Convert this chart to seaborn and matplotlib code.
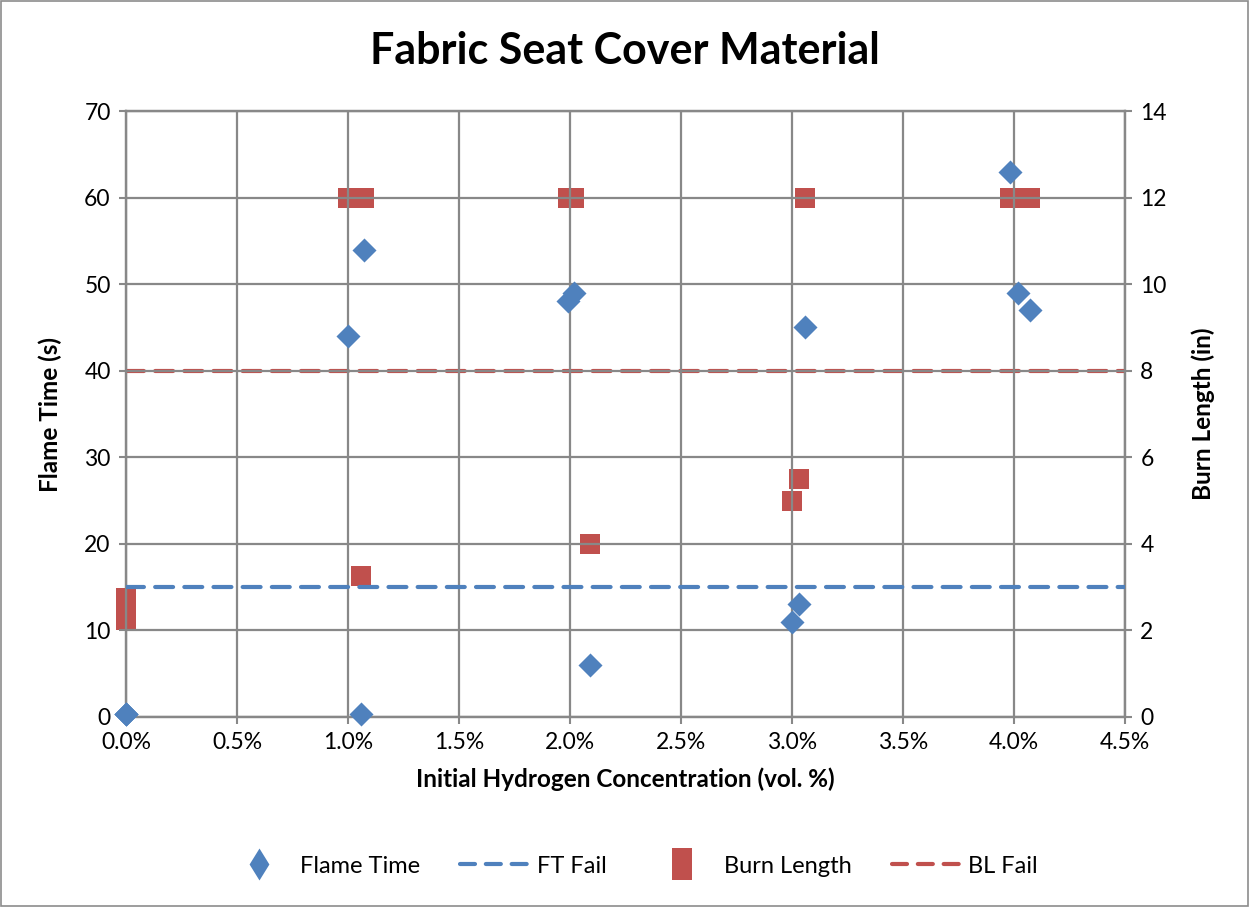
import matplotlib
matplotlib.use("Agg")
import matplotlib.pyplot as plt
import seaborn as sns
import pandas as pd
from matplotlib.patches import Rectangle
from matplotlib.lines import Line2D
from matplotlib.path import Path
from matplotlib.ticker import FuncFormatter, MultipleLocator

# Data
h2_conc = [0.0, 0.0, 0.0, 1.00, 1.07, 1.06, 1.99, 2.02, 2.09, 3.00, 3.03, 3.06, 3.98, 4.02, 4.07]
flame_time = [0.3, 0.3, 0.3, 44, 54, 0.3, 48, 49, 6, 11, 13, 45, 63, 49, 47]
burn_length = [2.75, 2.5, 2.25, 12, 12, 3.25, 12, 12, 4, 5, 5.5, 12, 12, 12, 12]
fail_x = [0.0, 4.5]
ft_fail = [15, 15]
bl_fail = [8, 8]

title = "Fabric Seat Cover Material"
xlabel = "Initial Hydrogen Concentration (vol. %)"
ylabel_left = "Flame Time (s)"
ylabel_right = "Burn Length (in)"
legend_labels = ["Flame Time", "FT Fail", "Burn Length", "BL Fail"]

blue = "#4F81BD"
red = "#C0504D"
grid_c = "#888888"

sns.set_theme(style="white")
plt.rcParams['font.family'] = ['Lato', 'DejaVu Sans']
plt.rcParams['text.color'] = 'black'

df = pd.DataFrame({"x": h2_conc, "ft": flame_time, "bl": burn_length})
fail_df = pd.DataFrame({"x": fail_x, "ft": ft_fail, "bl": bl_fail})

fig = plt.figure(figsize=(12.49, 9.07), dpi=100)
ax = fig.add_axes([0.1009, 0.2095, 0.7998, 0.6681])
ax2 = ax.twinx()

ax.set_zorder(ax2.get_zorder() + 1)
ax.patch.set_visible(False)

# Flame time
sns.lineplot(data=fail_df, x="x", y="ft", ax=ax, color=blue, lw=3,
             dashes=False, zorder=3, legend=False)
ax.lines[-1].set_dashes([4.3, 2.7])
ax.lines[-1].set_dash_capstyle("round")
sns.scatterplot(data=df, x="x", y="ft", ax=ax, marker="D", s=150, color=blue,
                edgecolor=blue, linewidth=0, zorder=4, legend=False, clip_on=False)

# Burn length
sns.lineplot(data=fail_df, x="x", y="bl", ax=ax2, color=red, lw=3,
             dashes=False, zorder=3, legend=False)
ax2.lines[-1].set_dashes([4.3, 2.7])
ax2.lines[-1].set_dash_capstyle("round")
sns.scatterplot(data=df, x="x", y="bl", ax=ax2, marker="s", s=210, color=red,
                edgecolor=red, linewidth=0, zorder=4, legend=False, clip_on=False)

ax.set_xlim(0, 4.5)
ax.set_ylim(0, 70)
ax2.set_ylim(0, 14)
ax.xaxis.set_major_locator(MultipleLocator(0.5))
ax.yaxis.set_major_locator(MultipleLocator(10))
ax2.yaxis.set_major_locator(MultipleLocator(2))
ax.xaxis.set_major_formatter(FuncFormatter(lambda v, p: f"{v:.1f}%"))

ax.grid(True, color=grid_c, lw=1.6, zorder=0)
ax2.grid(False)
for a in (ax, ax2):
    for s in a.spines.values():
        s.set_color(grid_c)
        s.set_linewidth(1.6)
ax.tick_params(axis="both", labelsize=16.5, colors="black", length=5, width=1.5,
               color=grid_c, direction="out", pad=6)
ax.tick_params(axis="x", bottom=True)
ax.tick_params(axis="y", left=True)
ax2.tick_params(axis="y", labelsize=16.5, colors="black", length=5, width=1.5,
                color=grid_c, direction="out", right=True, pad=6)
for lab in ax.get_xticklabels() + ax.get_yticklabels() + ax2.get_yticklabels():
    lab.set_color("black")

ax.set_xlabel(xlabel, fontsize=17.5, fontweight="bold", labelpad=10, color="black")
ax.set_ylabel(ylabel_left, fontsize=17.5, fontweight="bold", labelpad=16, color="black")
ax2.set_ylabel(ylabel_right, fontsize=17.5, fontweight="bold", labelpad=18, color="black")
fig.suptitle(title, fontsize=31, fontweight="bold", y=0.966, color="black")

# Legend (tall marker keys as in the reference)
tall_diamond = Path([(0, 1), (0.62, 0), (0, -1), (-0.62, 0), (0, 1)],
                    [Path.MOVETO, Path.LINETO, Path.LINETO, Path.LINETO, Path.CLOSEPOLY])
tall_rect = Path([(-0.62, 1), (0.62, 1), (0.62, -1), (-0.62, -1), (-0.62, 1)],
                 [Path.MOVETO, Path.LINETO, Path.LINETO, Path.LINETO, Path.CLOSEPOLY])
handles = [
    Line2D([], [], marker=tall_diamond, ls="none", color=blue, ms=23, mew=0),
    Line2D([], [], color=blue, lw=3, dashes=[3.6, 2.6], dash_capstyle="round"),
    Line2D([], [], marker=tall_rect, ls="none", color=red, ms=23, mew=0),
    Line2D([], [], color=red, lw=3, dashes=[3.6, 2.6], dash_capstyle="round"),
]
fig.legend(handles, legend_labels, loc="center", bbox_to_anchor=(0.505, 0.045), ncol=4,
           frameon=False, fontsize=17, handlelength=3.0, columnspacing=1.7,
           handletextpad=0.25)

fig.patches.append(Rectangle((0.0008, 0.001), 0.9984, 0.998, transform=fig.transFigure,
                             fill=False, edgecolor="#8c8c8c", lw=1.2))

fig.savefig("out.png", dpi=100)
